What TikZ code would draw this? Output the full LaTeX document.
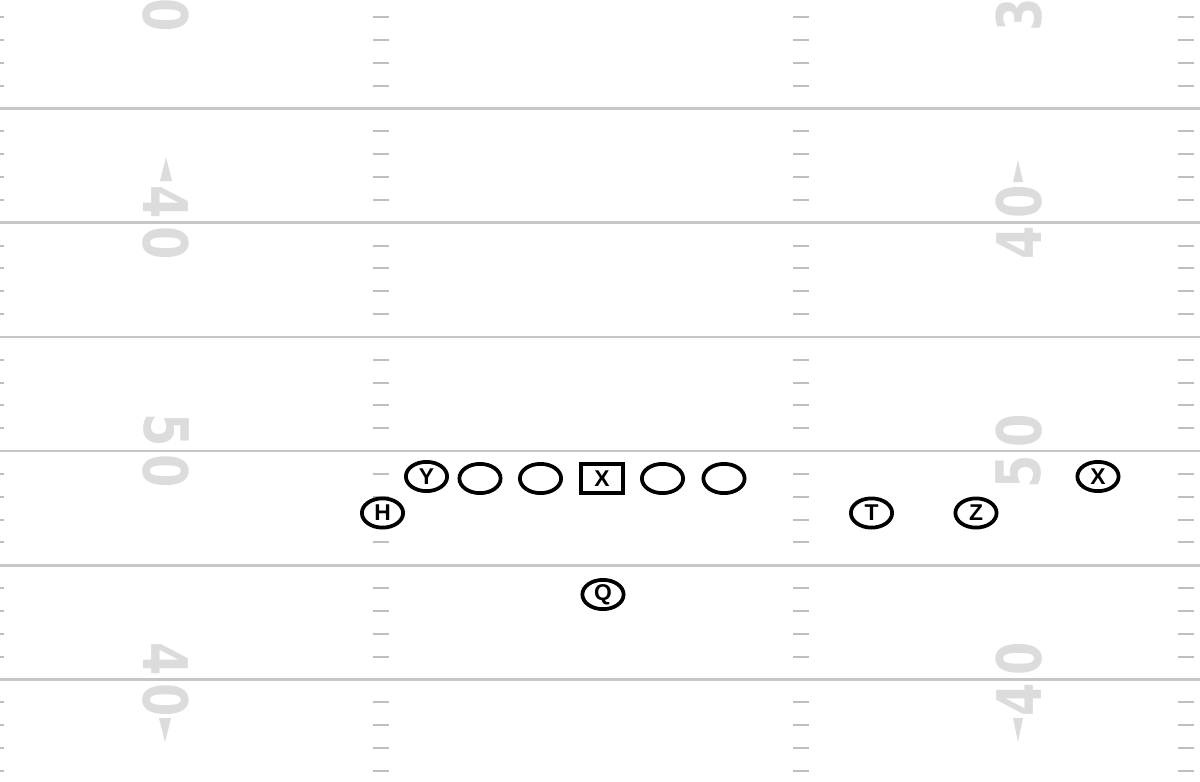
\documentclass[tikz,border=0pt]{standalone}
\usepackage{fontspec}
\setmainfont{Liberation Sans}
\newfontfamily\yardfont{DejaVu Sans}
\usetikzlibrary{shapes.geometric}
\definecolor{numgray}{HTML}{DCDCDC}
\definecolor{linegray}{HTML}{C6C6C6}
\definecolor{hashgray}{HTML}{BFBFBF}

\begin{document}
\begin{tikzpicture}[x=0.02cm,y=0.02cm,
      yardline/.style={draw=linegray,line width=0.05cm},
      hash/.style={draw=hashgray,line width=0.04cm},
      yardnum/.style={text=numgray,inner sep=0pt,font=\yardfont\bfseries\fontsize{35}{35}\selectfont},
      player/.style={draw,ellipse,fill=white,line width=0.075cm,inner sep=0pt,
        minimum width=0.825cm,minimum height=0.585cm,font=\bfseries\fontsize{13}{13}\selectfont},
      snapper/.style={player,rectangle,minimum width=0.845cm}
    ]
    \useasboundingbox (0,0) rectangle (1200,-781);
    \clip (0,0) rectangle (1200,-781);
    \fill[white] (0,0) rectangle (1200,-781);
    \foreach \k in {-1,...,5} {
        \foreach \j in {1,...,4} {
            \foreach \x in {-12,373,793,1178}
                \draw[hash] (\x,{-108.5-114.2*\k-22.84*\j}) -- ++(16,0);
        }
    }
    \foreach \k in {0,...,5}
        \draw[yardline] (0,{-108.5-114.2*\k}) -- ++(1200,0);
    % Zahlen am Rand, links und rechts gedreht
    \foreach \x/\y/\r/\d [count=\i] in {166/-14.8/-90/0,166/-202.2/-90/4,166/-243.2/-90/0,
        166/-430.6/-90/5,166/-471.6/-90/0,166/-659/-90/4,166/-700/-90/0,
        1019/-14.8/90/3,1019/-202.2/90/0,1019/-243.2/90/4,1019/-430.6/90/0,
        1019/-471.6/90/5,1019/-659/90/0,1019/-700/90/4}
        \node [yardnum,rotate=\r] (num\i) at (\x,\y) {\scalebox{0.78}[1]{\d}};
    \fill[numgray] (160,-181) -- (166,-157) -- (172,-181) -- cycle;
    \fill[numgray] (1013,-182) -- (1018,-160) -- (1023,-182) -- cycle;
    \fill[numgray] (159,-718) -- (165,-742) -- (171,-718) -- cycle;
    \fill[numgray] (1013,-718) -- (1018,-742) -- (1023,-718) -- cycle;
    % Angriff
    \node [player] (y) at (426.5,-476.5) {Y};
    \foreach \x/\n in {480/lt,540.5/lg,662.5/rg,724/rt}
        \node [player] (\n) at (\x,-478.5) {};
    \node [snapper] (c) at (602,-478.5) {X};
    \node [player] (h) at (382.5,-513) {H};
    \node [player] (t) at (871.5,-513) {T};
    \node [player] (z) at (976,-513) {Z};
    \node [player] (x) at (1098,-476.5) {X};
    \node [player] (q) at (603,-594.5) {Q};
\end{tikzpicture}
\end{document}
